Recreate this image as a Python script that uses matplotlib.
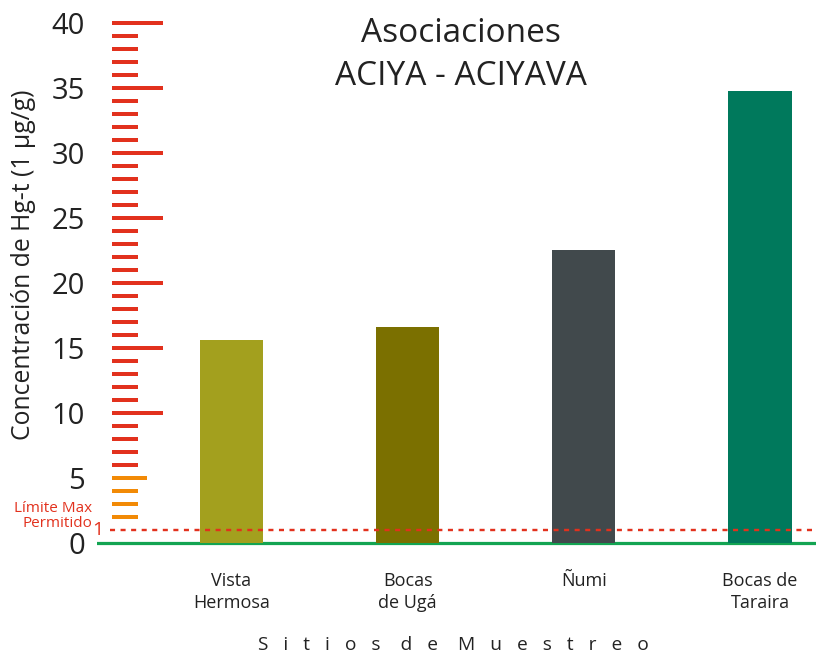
import matplotlib
matplotlib.use("Agg")
import matplotlib.pyplot as plt
from matplotlib.transforms import blended_transform_factory

# Mercury concentration per sampling site
sites = ["Vista\nHermosa", "Bocas\nde Ugá", "Ñumi", "Bocas de\nTaraira"]
hg_total = [15.6, 16.6, 22.5, 34.8]
bar_colors = ["#A3A01E", "#7B7000", "#41494C", "#00795C"]

limit_value = 1
major_ticks = [0, 5, 10, 15, 20, 25, 30, 35, 40]
major_labels = [str(t) for t in major_ticks]
minor_ticks = [v for v in range(2, 40) if v % 5 != 0]

x_title_words = ["Sitios", "de", "Muestreo"]

RED = "#E2311D"
ORANGE = "#F28A06"
GREEN = "#13A452"
TEXT = "#222222"

plt.rcParams["font.family"] = ["Open Sans", "DejaVu Sans"]

PX = 0.72  # points per pixel at dpi 100

fig = plt.figure(figsize=(8.16, 6.53), dpi=100)
ax = fig.add_axes([97 / 816, 0.1493, 1 - 97 / 816, 0.8354])

x = list(range(len(sites)))
ax.bar(x, hg_total, width=0.358, color=bar_colors, zorder=3)

ax.set_xlim(-0.7635, 3.318)
ax.set_ylim(-1, 41)

# base line and permitted limit
ax.axhline(0, color=GREEN, lw=3.2 * PX, zorder=2)
ax.axhline(limit_value, xmin=13 / 719, color=RED, lw=2.4 * PX,
           linestyle=(0, (2.1, 2.3)), zorder=4)

for side in ["left", "right", "top", "bottom"]:
    ax.spines[side].set_visible(False)
ax.spines["left"].set_position(("axes", 15 / 719))

# y axis: ruler-style tick marks
ax.set_yticks(major_ticks, major_labels)
ax.set_yticks(minor_ticks, minor=True)
ax.tick_params(axis="y", which="major", direction="in", length=51 * PX,
               width=4 * PX, pad=27 * PX, labelsize=21, labelcolor=TEXT,
               color=RED)
ax.tick_params(axis="y", which="minor", direction="in", length=26 * PX,
               width=4 * PX, color=RED)

for tick, val in zip(ax.yaxis.get_major_ticks(), major_ticks):
    if val == 0:
        tick.tick1line.set_visible(False)
    elif val == 5:
        tick.tick1line.set_markeredgecolor(ORANGE)
        tick.tick1line.set_color(ORANGE)
        tick.tick1line.set_markersize(35 * PX)
for tick, val in zip(ax.yaxis.get_minor_ticks(), minor_ticks):
    if val < 5:
        tick.tick1line.set_markeredgecolor(ORANGE)
        tick.tick1line.set_color(ORANGE)

yblend = blended_transform_factory(ax.transAxes, ax.transData)
ax.text(6 / 719, limit_value, str(limit_value), transform=yblend,
        ha="right", va="center", fontsize=14, color=RED)
ax.text(-5 / 719, 2.05, "Límite Max\nPermitido", transform=yblend,
        ha="right", va="center", fontsize=11, color=RED,
        multialignment="right", linespacing=1.0)

# x axis
ax.set_xticks(x, sites)
ax.tick_params(axis="x", length=0, pad=16 * PX, labelsize=13,
               labelcolor=TEXT)
for lab in ax.get_xticklabels():
    lab.set_linespacing(1.35)

ax.set_ylabel("Concentración de Hg-t (1 µg/g)", fontsize=17.8, color=TEXT,
              va="center")
ax.yaxis.set_label_coords(-0.102, 0.5325)

spaced = "    ".join("   ".join(word) for word in x_title_words)
ax.set_xlabel(spaced, fontsize=13.8, color=TEXT, va="center")
ax.xaxis.set_label_coords(0.495, -0.164)

fig.text(461 / 816, 1 - 55 / 653, "Asociaciones\nACIYA - ACIYAVA",
         ha="center", va="center", fontsize=24, color=TEXT,
         linespacing=1.42)

fig.savefig("out.png", dpi=100)
